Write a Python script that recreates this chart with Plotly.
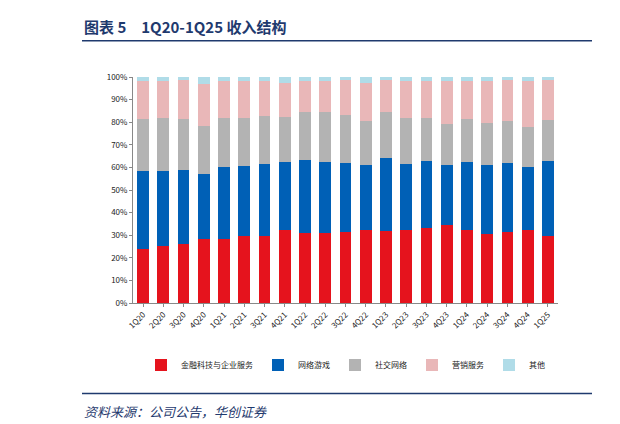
import plotly.graph_objects as go

quarters = ['1Q20', '2Q20', '3Q20', '4Q20', '1Q21', '2Q21', '3Q21', '4Q21', '1Q22', '2Q22', '3Q22',
            '4Q22', '1Q23', '2Q23', '3Q23', '4Q23', '1Q24', '2Q24', '3Q24', '4Q24', '1Q25']
# cumulative tops (%)
red_top = [23.9, 25.4, 26.0, 28.2, 28.2, 29.7, 29.8, 32.5, 31.0, 30.9, 31.5,
           32.1, 31.9, 32.1, 33.1, 34.4, 32.3, 30.7, 31.2, 32.1, 29.8]
blue_top = [58.3, 58.6, 58.9, 57.3, 60.4, 60.7, 61.3, 62.3, 63.1, 62.6, 62.0,
            60.9, 64.1, 61.7, 62.8, 60.9, 62.3, 60.9, 62.0, 60.4, 62.9]
gray_top = [81.5, 81.8, 81.4, 78.3, 81.7, 81.7, 82.6, 82.4, 84.6, 84.3, 83.3,
            80.5, 84.6, 81.7, 82.0, 79.0, 81.5, 79.5, 80.5, 77.7, 81.1]
pink_top = [98.1, 98.1, 98.5, 96.7, 98.1, 98.2, 98.4, 97.3, 98.1, 98.2, 98.5,
            97.5, 98.7, 98.4, 98.4, 98.1, 98.1, 98.1, 98.5, 98.1, 98.5]

fintech = red_top
online_game = [b - r for b, r in zip(blue_top, red_top)]
social = [g - b for g, b in zip(gray_top, blue_top)]
marketing = [p - g for p, g in zip(pink_top, gray_top)]
other = [100 - p for p in pink_top]

series = [('金融科技与企业服务', fintech, '#E5131D'),
          ('网络游戏', online_game, '#0060B6'),
          ('社交网络', social, '#B3B3B3'),
          ('营销服务', marketing, '#E9B7B8'),
          ('其他', other, '#B0DCE8')]

fig = go.Figure()
for name, vals, color in series:
    fig.add_trace(go.Bar(x=quarters, y=vals, name=name, marker_color=color,
                         marker_line_width=0))

fig.update_layout(
    barmode='stack', bargap=0.42,
    width=620, height=424, margin=dict(l=125, r=70, t=69, b=129),
    paper_bgcolor='white', plot_bgcolor='white',
    font=dict(family='Noto Sans CJK SC', size=9, color='#222'),
    showlegend=True,
    legend=dict(orientation='h', x=0.5, xanchor='center', y=-0.21, yanchor='top',
                font=dict(size=8), itemwidth=30, traceorder='normal',
                tracegroupgap=0),
    xaxis=dict(tickangle=-45, showline=True, linecolor='#888', ticks='outside',
               ticklen=3, tickcolor='#888', tickfont=dict(size=8)),
    yaxis=dict(range=[0, 100], dtick=10, ticksuffix='%', showgrid=False,
               showline=True, linecolor='#888', ticks='outside', ticklen=3,
               tickcolor='#888', tickfont=dict(size=8)),
)

fig.add_annotation(text='<b>图表 5　1Q20-1Q25 收入结构</b>', xref='paper', yref='paper',
                   x=-0.12, y=1.17, xanchor='left', yanchor='bottom', showarrow=False,
                   font=dict(size=15, color='#1F3A6E', family='Noto Sans CJK SC'))
fig.add_shape(type='line', xref='paper', yref='paper', x0=-0.12, x1=1.08, y0=1.16, y1=1.16,
              line=dict(color='#1F3A6E', width=1.5))
fig.add_shape(type='line', xref='paper', yref='paper', x0=-0.12, x1=1.08, y0=-0.40, y1=-0.40,
              line=dict(color='#1F3A6E', width=1.5))
fig.add_annotation(text='<i>资料来源：公司公告，华创证券</i>', xref='paper', yref='paper',
                   x=-0.12, y=-0.43, xanchor='left', yanchor='top', showarrow=False,
                   font=dict(size=13, color='#1F3A6E', family='Noto Sans CJK SC'))

fig.write_html('out.html')
